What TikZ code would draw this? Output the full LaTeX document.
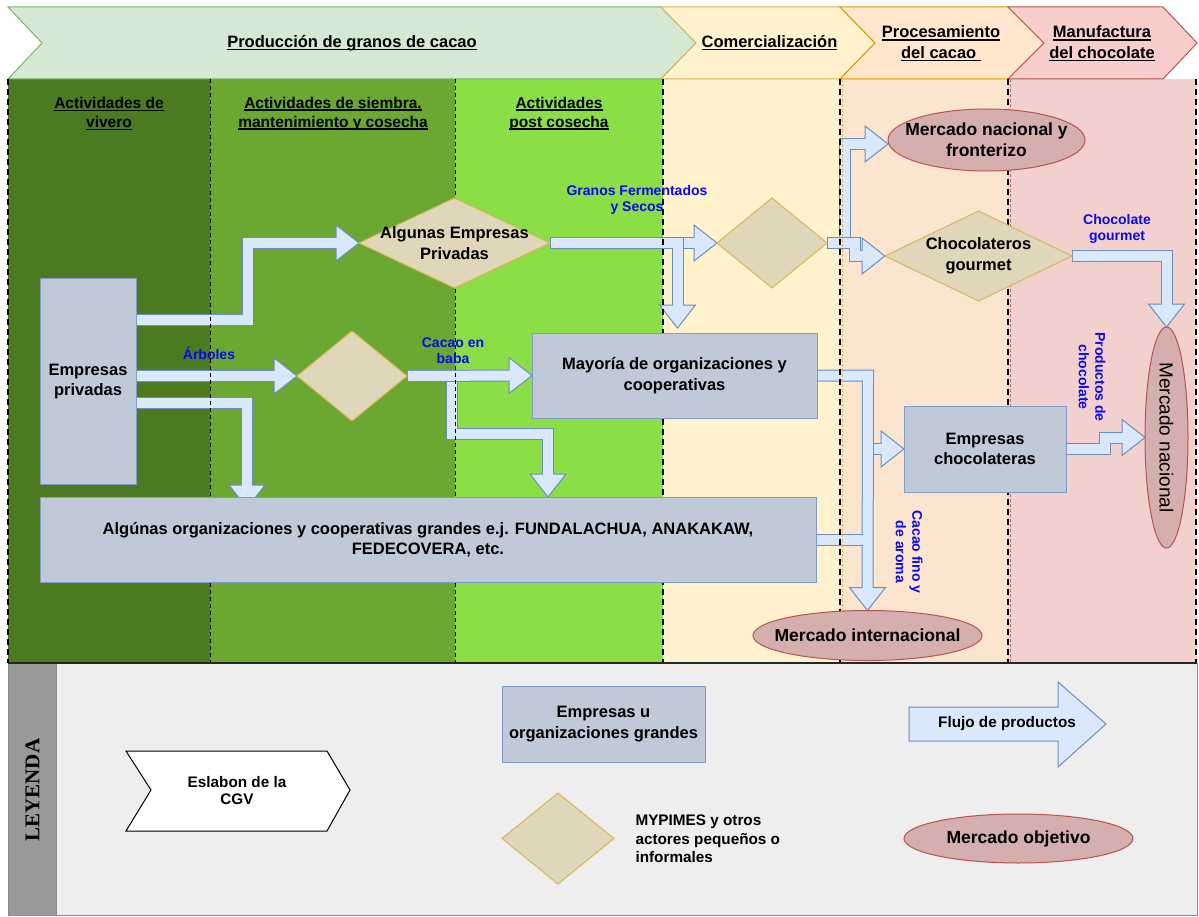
\documentclass[tikz,border=0pt]{standalone}
\usepackage{fontspec}
\setmainfont{Liberation Sans}
\newfontfamily\legendserif{Liberation Serif}
\usetikzlibrary{shapes.geometric,calc}

\pgfdeclarelayer{back}
\pgfdeclarelayer{flow}
\pgfdeclarelayer{rules}
\pgfsetlayers{back,flow,rules,main}

% column and banner colours
\definecolor{vivero}{RGB}{76,122,33}
\definecolor{siembra}{RGB}{107,168,50}
\definecolor{postcos}{RGB}{139,222,70}
\definecolor{comfill}{RGB}{255,242,204}
\definecolor{procfill}{RGB}{251,229,207}
\definecolor{manufill}{RGB}{242,208,205}
\definecolor{bnGreen}{RGB}{213,232,212}
\definecolor{bnGreenL}{RGB}{130,179,102}
\definecolor{bnYellow}{RGB}{255,242,204}
\definecolor{bnYellowL}{RGB}{214,182,86}
\definecolor{bnOrange}{RGB}{255,230,204}
\definecolor{bnOrangeL}{RGB}{215,155,0}
\definecolor{bnRed}{RGB}{248,206,204}
\definecolor{bnRedL}{RGB}{184,84,80}
% node colours
\definecolor{boxfill}{RGB}{192,201,216}
\definecolor{boxline}{RGB}{130,155,200}
\definecolor{diafill}{RGB}{224,214,185}
\definecolor{dialine}{RGB}{214,182,86}
\definecolor{mktfill}{RGB}{212,175,174}
\definecolor{mktline}{RGB}{184,84,80}
\definecolor{arrowfill}{RGB}{218,232,252}
\definecolor{arrowline}{RGB}{108,142,191}
\definecolor{flowblue}{RGB}{10,10,240}
\definecolor{legbg}{RGB}{238,238,238}
\definecolor{legstrip}{RGB}{153,153,153}

% underline drawn close to the baseline, across descenders
\newcommand\ulx[1]{\setbox0=\hbox{#1}\rlap{\rule[-2.6pt]{\wd0}{1.2pt}}\box0}

% block arrows: #1 = path up to the last bend, #2 = tip
\newcommand\flowR[2]{%
  \draw[aout,shorten >=20pt] #1 -- #2;
  \filldraw[ahead] #2 -- ++(-23,-18) -- ++(0,36) -- cycle;
  \draw[ain,shorten >=21pt] #1 -- #2;}
\newcommand\flowD[2]{%
  \draw[aout,shorten >=20pt] #1 -- #2;
  \filldraw[ahead] #2 -- ++(-18,-23) -- ++(36,0) -- cycle;
  \draw[ain,shorten >=21pt] #1 -- #2;}

\tikzset{
  aout/.style={draw=arrowline, line width=12pt, line join=miter},
  ain/.style={draw=arrowfill, line width=10pt, line join=miter, shorten <=1pt},
  ahead/.style={fill=arrowfill, draw=arrowline, line width=1pt, line join=miter},
  box/.style={draw=boxline, fill=boxfill, line width=1pt, outer sep=0pt, inner sep=2pt,
    align=center, font=\bfseries\fontsize{16.5}{20.5}\selectfont},
  dia/.style={diamond, draw=dialine, fill=diafill, line width=1pt, outer sep=0pt, inner sep=0pt},
  mkt/.style={ellipse, draw=mktline, fill=mktfill, line width=1pt, outer sep=0pt, inner sep=0pt},
  ntxt/.style={align=center, font=\bfseries\fontsize{16.5}{20.5}\selectfont},
  mtxt/.style={align=center, font=\bfseries\fontsize{17.5}{21}\selectfont},
  flab/.style={align=center, text=flowblue, font=\bfseries\fontsize{14}{16.5}\selectfont},
  hdr/.style={align=center, font=\bfseries\fontsize{15.5}{19}\selectfont},
  bnr/.style={align=center, font=\bfseries\fontsize{16.5}{20.5}\selectfont},
  legtxt/.style={align=center, font=\bfseries\fontsize{15.3}{17.5}\selectfont},
  thinrule/.style={draw=black, line width=0.8pt, dash pattern=on 4pt off 3pt},
  thickrule/.style={draw=black, line width=2pt, dash pattern=on 6pt off 4pt},
}

\begin{document}
\begin{tikzpicture}[x=1pt,y=-1pt]
\useasboundingbox (0,0) rectangle (1199,917);

% ---------- nodes ----------
\node[box, minimum width=96pt, minimum height=205pt] (priv) at (88,381.5) {Empresas\\privadas};
\node[dia, minimum width=191pt, minimum height=90pt,
      label={[ntxt]center:Algunas Empresas\\Privadas}] (alg) at (454.5,243) {};
\node[dia, minimum width=110pt, minimum height=90pt] (d1) at (352,376) {};
\node[box, minimum width=285pt, minimum height=85pt] (may) at (674.5,375.5) {Mayoría de organizaciones y\\cooperativas};
\node[box, minimum width=776pt, minimum height=85pt] (big) at (428,539.5)
  {Algúnas organizaciones y cooperativas grandes e.j. FUNDALACHUA, ANAKAKAW,\\FEDECOVERA, etc.};
\node[dia, minimum width=110pt, minimum height=90pt] (dc) at (772,243) {};
\node[dia, minimum width=187pt, minimum height=90pt,
      label={[ntxt]center:Chocolateros\\gourmet}] (cg) at (978.5,256) {};
\node[box, minimum width=162pt, minimum height=86pt] (ec) at (985,449) {Empresas\\chocolateras};
\node[mkt, minimum width=197pt, minimum height=62pt,
      label={[mtxt]center:Mercado nacional y\\fronterizo}] (mnf) at (986.5,140) {};
\node[mkt, minimum width=43pt, minimum height=221pt,
      label={[rotate=-90, font=\fontsize{19}{22}\selectfont]center:Mercado nacional}] (mn) at (1166.5,437.5) {};
\node[mkt, minimum width=229pt, minimum height=50pt,
      label={[mtxt]center:Mercado internacional}] (mi) at (867.5,635.5) {};

% flow labels
\node[flab] (lbArb) at (209,353) {Árboles};
\node[flab] (lbBaba) at (453,350.5) {Cacao en\\baba};
\node[flab] (lbGranos) at (637,200) {Granos Fermentados\\y Secos};
\node[flab] (lbGour) at (1117,229) {Chocolate\\gourmet};
\node[flab, rotate=-90] (lbProd) at (1092,377) {Productos de\\chocolate};
\node[flab, rotate=-90] (lbFino) at (909,552) {Cacao fino y\\de aroma};

% column headers
\node[hdr] (h1) at (109,113.5) {\ulx{Actividades de}\\\ulx{vivero}};
\node[hdr] (h2) at (333,113.5) {\ulx{Actividades de siembra,}\\\ulx{mantenimiento y cosecha}};
\node[hdr] (h3) at (559,113.5) {\ulx{Actividades}\\\ulx{post cosecha}};

% banner titles
\node[bnr] (b1) at (352,43) {\ulx{Producción de granos de cacao}};
\node[bnr] (b2) at (769.5,43) {\ulx{Comercialización}};
\node[bnr] (b3) at (941,43.5) {\ulx{Procesamiento}\\\ulx{del cacao\ }};
\node[bnr] (b4) at (1102,43.5) {\ulx{Manufactura}\\\ulx{del chocolate}};

% ---------- legend ----------
\node[rotate=90, font=\legendserif\bfseries\fontsize{21}{21}\selectfont] (leyenda) at (32.5,790) {LEYENDA};
\draw[fill=white, draw=black, line width=1pt] (126,751) -- (327,751) -- (350,790) -- (327,831)
  -- (126,831) -- (151,790) -- cycle;
\node[legtxt] (eslabon) at (237,790.5) {Eslabon de la\\CGV};
\node[box, minimum width=203pt, minimum height=76pt] (legbox) at (603.5,724) {Empresas u\\organizaciones grandes};
\filldraw[ahead] (909,707) -- (1058,707) -- (1058,682) -- (1106,724) -- (1058,767)
  -- (1058,741) -- (909,741) -- cycle;
\node[legtxt] (flujo) at (1007,724) {Flujo de productos};
\node[dia, minimum width=112pt, minimum height=91pt] (legdia) at (558,838.5) {};
\node[align=left, anchor=west, font=\bfseries\fontsize{15.3}{18.5}\selectfont] (mypimes) at (632,839)
  {MYPIMES y otros\\actores pequeños o\\informales};
\node[mkt, minimum width=229pt, minimum height=49pt,
      label={[mtxt]center:Mercado objetivo}] (legmkt) at (1018.5,838.5) {};

% ---------- backgrounds ----------
\begin{pgfonlayer}{back}
  \fill[vivero] (8,79) rectangle (210,663);
  \fill[siembra] (210,79) rectangle (455,663);
  \fill[postcos] (455,79) rectangle (663,663);
  \fill[comfill] (663,79) rectangle (840,663);
  \fill[procfill] (840,79) rectangle (1008,663);
  \fill[manufill] (1008,79) rectangle (1197,663);
  \filldraw[fill=bnGreen, draw=bnGreenL, line width=1pt]
    (8,7) -- (661,7) -- (696,43) -- (661,79) -- (8,79) -- (42,43) -- cycle;
  \filldraw[fill=bnYellow, draw=bnYellowL, line width=1pt]
    (661,7) -- (840,7) -- (875,43) -- (840,79) -- (661,79) -- (696,43) -- cycle;
  \filldraw[fill=bnOrange, draw=bnOrangeL, line width=1pt]
    (840,7) -- (1008,7) -- (1044,43) -- (1008,79) -- (840,79) -- (875,43) -- cycle;
  \filldraw[fill=bnRed, draw=bnRedL, line width=1pt]
    (1008,7) -- (1163,7) -- (1197,43) -- (1163,79) -- (1008,79) -- (1044,43) -- cycle;
  \filldraw[fill=legbg, draw=black!45, line width=1pt] (8,663) rectangle (1197,915);
  \filldraw[fill=legstrip, draw=black!45, line width=1pt] (8,663) rectangle (56,915);
\end{pgfonlayer}

% ---------- product flows ----------
\begin{pgfonlayer}{flow}
  \flowR{(priv.east |- 0,320) -- (247.5,320) -- (247.5,243)}{(alg.west)}
  \flowR{(priv.east |- 0,376)}{(d1.west)}
  \flowD{(priv.east |- 0,402.5) -- (247,402.5)}{($(big.north -| 247,0)+(0,11)$)}
  \flowD{(452,376) -- (452,433.5) -- (548,433.5)}{(big.north -| 548,0)}
  \flowR{(d1.east)}{(may.west)}
  \flowR{(alg.east)}{(dc.west)}
  \flowD{(alg.east) -- (677.5,243)}{($(may.north -| 677.5,0)+(0,-5)$)}
  \flowR{(845,243) -- (845,144)}{(mnf.west |- 0,144)}
  \flowR{(dc.east) -- (855,243) -- (855,256)}{(cg.west)}
  \flowD{(cg.east) -- (1166.5,256)}{(mn.north)}
  \flowR{(ec.east) -- (1105,449) -- (1105,437.5)}{(mn.west)}
  \flowD{(may.east) -- (868,375.5)}{(mi.north)}
  \flowR{(872.5,449)}{(ec.west)}
  \draw[aout] (big.east |- 0,539.5) -- (862.5,539.5);
  \draw[ain] (big.east |- 0,539.5) -- (863.5,539.5);
\end{pgfonlayer}

% ---------- column rules ----------
\begin{pgfonlayer}{rules}
  \draw[thinrule] (210,79) -- (210,663);
  \draw[thinrule] (455,79) -- (455,663);
  \draw[thickrule] (8,79) -- (8,663);
  \draw[thickrule] (663,79) -- (663,663);
  \draw[thickrule] (840,79) -- (840,663);
  \draw[thickrule] (1008,79) -- (1008,663);
  \draw[thickrule] (1196,79) -- (1196,663);
  \draw[draw={rgb,255:red,225;green,180;blue,100}, line width=0.8pt, dash pattern=on 3pt off 2pt] (842.8,79) -- (842.8,663);
  \draw[draw={rgb,255:red,200;green,110;blue,105}, line width=0.8pt, dash pattern=on 3pt off 2pt] (1010.5,79) -- (1010.5,663);
  \draw[black!85, line width=1.5pt] (8,663) -- (1197,663);
\end{pgfonlayer}
\end{tikzpicture}
\end{document}
